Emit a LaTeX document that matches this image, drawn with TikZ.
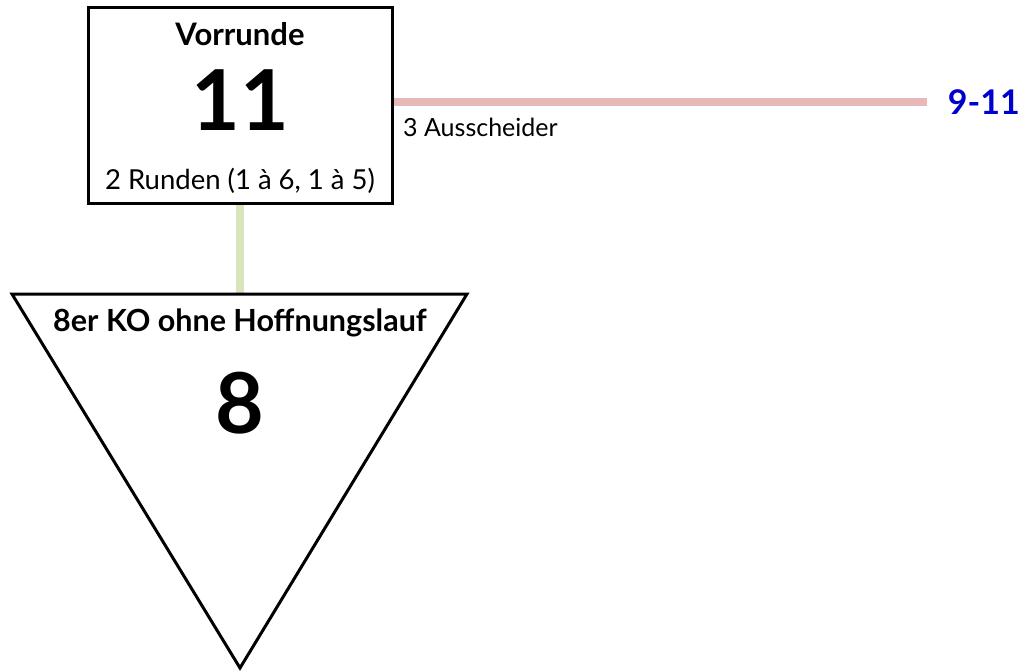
\documentclass[tikz,border=0pt]{standalone}
\usepackage{fontspec}
\setmainfont{Lato}
\definecolor{linkgreen}{HTML}{D7E4BD}
\definecolor{linkpink}{HTML}{E6B9B8}
\definecolor{rankblue}{HTML}{0000CC}
\begin{document}
\begin{tikzpicture}[x=1pt,y=-1pt,
  frame/.style={draw=black,line width=3pt,fill=white},
  link/.style={line width=8pt},
  txt/.style={inner sep=0pt,anchor=center}]
\useasboundingbox (0,0) rectangle (1029,672);
% connectors
\coordinate (boxbot) at (240,203);
\coordinate (tritop) at (240,294);
\coordinate (boxright) at (392,102);
\coordinate (pinkend) at (927,102);
\draw[link,linkgreen] (boxbot) -- (tritop);
\draw[link,linkpink] (boxright) -- (pinkend);
% box
\draw[frame] (88,7) rectangle (392,203);
\node[txt,font=\bfseries\fontsize{31}{34}\selectfont] (vr) at (240,34) {Vorrunde};
\node[txt,font=\bfseries\fontsize{84}{90}\selectfont] (n11) at (240,100) {11};
\node[txt,font=\fontsize{27.5}{30}\selectfont] (runden) at (240,181) {2 Runden (1 à 6, 1 à 5)};
% triangle
\draw[frame,line join=miter] (12,294) -- (467,294) -- (240,668) -- cycle;
\node[txt,font=\bfseries\fontsize{30.5}{33}\selectfont] (ko) at (240,323) {8er KO ohne Hoffnungslauf};
\node[txt,font=\bfseries\fontsize{84}{90}\selectfont] (n8) at (240,403) {8};
% labels
\node[anchor=base west,inner sep=0pt,font=\fontsize{25}{28}\selectfont] (aus) at (403,136) {3 Ausscheider};
\node[anchor=east,inner sep=0pt,text=rankblue,font=\bfseries\fontsize{34}{36}\selectfont] (rank) at (1020,102) {9-11};
\end{tikzpicture}
\end{document}
